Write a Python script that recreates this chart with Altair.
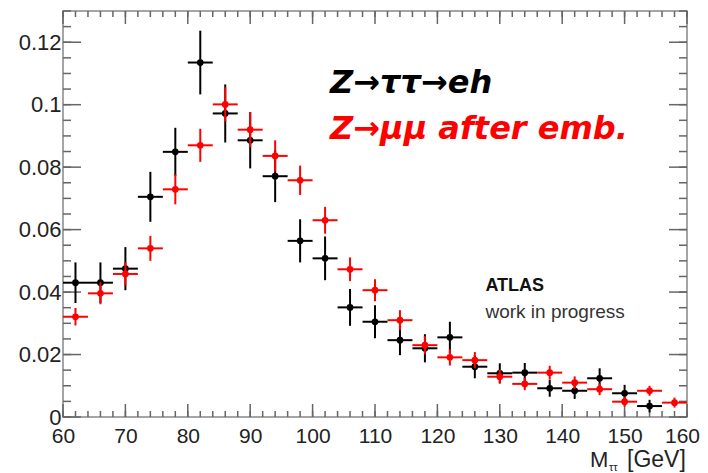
import altair as alt
import pandas as pd

# ---- data ----
x_black = [62, 66, 70, 74, 78, 82, 86, 90, 94, 98, 102, 106, 110, 114, 118, 122,
           126, 130, 134, 138, 142, 146, 150, 154]
y_black = [0.0430, 0.0430, 0.0475, 0.0705, 0.0849, 0.1135, 0.0972, 0.0886, 0.0771,
           0.0564, 0.0508, 0.0351, 0.0305, 0.0246, 0.0220, 0.0255, 0.0161, 0.0140,
           0.0142, 0.0092, 0.0084, 0.0124, 0.0076, 0.0035]
e_black = [0.0065, 0.0065, 0.0069, 0.0080, 0.0077, 0.0102, 0.0093, 0.0090, 0.0083,
           0.0069, 0.0070, 0.0059, 0.0053, 0.0048, 0.0045, 0.0050, 0.0037, 0.0032,
           0.0031, 0.0027, 0.0026, 0.0032, 0.0027, 0.0020]

x_red = [62, 66, 70, 74, 78, 82, 86, 90, 94, 98, 102, 106, 110, 114, 118, 122,
         126, 130, 134, 138, 142, 146, 150, 154, 158]
y_red = [0.0321, 0.0396, 0.0458, 0.0540, 0.0729, 0.0870, 0.1001, 0.0920, 0.0836,
         0.0758, 0.0630, 0.0473, 0.0406, 0.0310, 0.0230, 0.0191, 0.0182, 0.0129,
         0.0106, 0.0142, 0.0110, 0.0089, 0.0049, 0.0084, 0.0046]
e_red = [0.0028, 0.0035, 0.0037, 0.0040, 0.0048, 0.0053, 0.0055, 0.0056, 0.0050,
         0.0047, 0.0043, 0.0038, 0.0035, 0.0032, 0.0029, 0.0026, 0.0026, 0.0022,
         0.0020, 0.0022, 0.0020, 0.0019, 0.0016, 0.0016, 0.0016]

half_bin = 2.0

x_labels = [60, 70, 80, 90, 100, 110, 120, 130, 140, 150, 160]
y_labels = [0, 0.02, 0.04, 0.06, 0.08, 0.1, 0.12]
x_minor = [60 + 2 * i for i in range(51)]
y_minor = [round(0.005 * i, 3) for i in range(27)]

W, H = 624, 406
FONT = "Liberation Sans"


def frame(xs, ys, es):
    return pd.DataFrame({
        "x": xs, "y": ys,
        "xlo": [v - half_bin for v in xs], "xhi": [v + half_bin for v in xs],
        "ylo": [a - b for a, b in zip(ys, es)], "yhi": [a + b for a, b in zip(ys, es)],
    })


xs = alt.Scale(domain=[60, 160], nice=False, zero=False)
ys = alt.Scale(domain=[0, 0.13], nice=False, zero=True)

base_axes = alt.Chart(pd.DataFrame({"x": [60], "y": [0]})).mark_point(opacity=0).encode(
    x=alt.X("x:Q", scale=xs, axis=alt.Axis(values=x_labels, ticks=False, domain=False,
                                           grid=False, labelFontSize=21, labelFont=FONT,
                                           labelColor="#222", labelPadding=8,
                                           labelOffset={"condition": {"test": "datum.value == 160",
                                                                      "value": -5},
                                                        "value": 0},
                                           labelFlush=False, labelOverlap=False, title=None)),
    y=alt.Y("y:Q", scale=ys, axis=alt.Axis(values=y_labels, ticks=False, domain=False,
                                           grid=False, labelFontSize=22, labelFont=FONT,
                                           labelColor="#222", labelPadding=2,
                                           labelFlush=False, labelOverlap=False,
                                           labelExpr="format(datum.value, '.2~f')",
                                           title=None)),
)


def series(df, color):
    c = alt.Chart(df)
    v = c.mark_rule(color=color, strokeWidth=2).encode(
        x=alt.X("x:Q", scale=xs), y=alt.Y("ylo:Q", scale=ys), y2="yhi:Q")
    h = c.mark_rule(color=color, strokeWidth=2).encode(
        x=alt.X("xlo:Q", scale=xs), x2="xhi:Q", y=alt.Y("y:Q", scale=ys))
    p = c.mark_circle(color=color, size=45, opacity=1).encode(
        x=alt.X("x:Q", scale=xs), y=alt.Y("y:Q", scale=ys))
    return v + h + p


# ---- inward ROOT-style ticks ----
ymaj = pd.DataFrame({"v": y_labels})
ymin = pd.DataFrame({"v": y_minor})
xmaj = pd.DataFrame({"v": x_labels})
xmin = pd.DataFrame({"v": x_minor})
tick_col = "#666"


def yticks(df, length):
    left = alt.Chart(df).mark_rule(color=tick_col, strokeWidth=1.5).encode(
        y=alt.Y("v:Q", scale=ys), x=alt.value(0), x2=alt.value(length))
    right = alt.Chart(df).mark_rule(color=tick_col, strokeWidth=1.5).encode(
        y=alt.Y("v:Q", scale=ys), x=alt.value(W), x2=alt.value(W - length))
    return left + right


def xticks(df, length):
    bot = alt.Chart(df).mark_rule(color=tick_col, strokeWidth=1.5).encode(
        x=alt.X("v:Q", scale=xs), y=alt.value(H), y2=alt.value(H - length))
    top = alt.Chart(df).mark_rule(color=tick_col, strokeWidth=1.5).encode(
        x=alt.X("v:Q", scale=xs), y=alt.value(0), y2=alt.value(length))
    return bot + top


ticks = yticks(ymin, 8) + yticks(ymaj, 18) + xticks(xmin, 6) + xticks(xmaj, 13)

# ---- legend / labels ----
leg = pd.DataFrame({"x": [102.8, 102.8], "y": [0.1037, 0.0890],
                    "t": ["Z\u2192\u03c4\u03c4\u2192eh", "Z\u2192\u03bc\u03bc after emb."],
                    "c": ["#000000", "#ff0000"]})
legend = alt.Chart(leg).mark_text(font="DejaVu Sans", fontSize=32, fontWeight="bold",
                                  fontStyle="italic", align="left", baseline="alphabetic").encode(
    x=alt.X("x:Q", scale=xs), y=alt.Y("y:Q", scale=ys), text="t:N",
    color=alt.Color("c:N", scale=None))

atlas = alt.Chart(pd.DataFrame({"x": [127.7], "y": [0.0403], "t": ["ATLAS"]})).mark_text(
    font=FONT, fontSize=18, fontWeight="bold", align="left", baseline="alphabetic",
    color="#111").encode(x=alt.X("x:Q", scale=xs), y=alt.Y("y:Q", scale=ys), text="t:N")
wip = alt.Chart(pd.DataFrame({"x": [127.7], "y": [0.0317], "t": ["work in progress"]})).mark_text(
    font=FONT, fontSize=19, align="left", baseline="alphabetic",
    color="#333").encode(x=alt.X("x:Q", scale=xs), y=alt.Y("y:Q", scale=ys), text="t:N")

# axis title  M_ττ [GeV]
t_df = pd.DataFrame({"a": [0]})
tM = alt.Chart(t_df).mark_text(text="M", font=FONT, fontSize=22, align="left",
                               baseline="alphabetic", color="#222").encode(
    x=alt.value(527), y=alt.value(456))
tS = alt.Chart(t_df).mark_text(text="\u03c4\u03c4", font=FONT, fontSize=11, align="left",
                               baseline="alphabetic", color="#222").encode(
    x=alt.value(546), y=alt.value(460))
tG = alt.Chart(t_df).mark_text(text="[GeV]", font=FONT, fontSize=23, align="left",
                               baseline="alphabetic", color="#222").encode(
    x=alt.value(564), y=alt.value(456))

chart = alt.layer(
    base_axes, ticks,
    series(frame(x_black, y_black, e_black), "#000000"),
    series(frame(x_red, y_red, e_red), "#ff0000"),
    legend, atlas, wip, tM, tS, tG,
).properties(
    width=W, height=H,
    autosize=alt.AutoSizeParams(type="none"),
    padding={"left": 55, "top": 3, "right": 13, "bottom": 55},
    background="white",
).configure_view(stroke="#888", strokeWidth=1.5)

chart.save("out.html", embed_options={"renderer": "svg", "actions": False})
